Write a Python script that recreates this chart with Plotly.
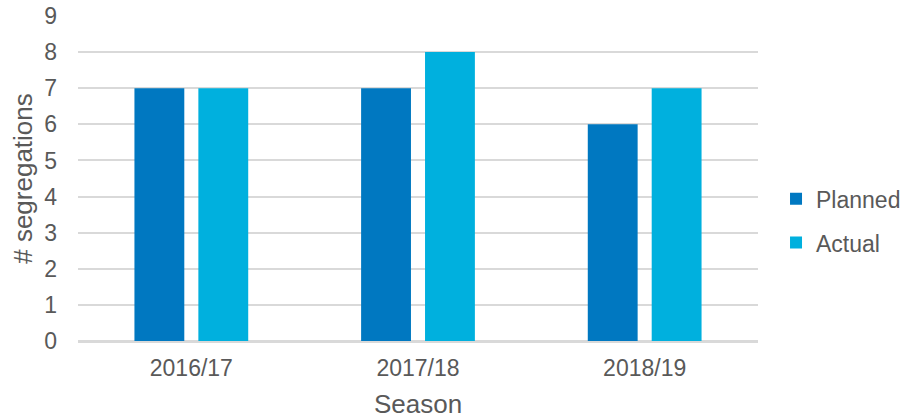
import plotly.graph_objects as go

seasons = ["2016/17", "2017/18", "2018/19"]
planned = [7, 7, 6]
actual = [7, 8, 7]

font = "Liberation Sans, Arial, sans-serif"
grey = "#595959"

fig = go.Figure()
fig.add_trace(go.Bar(x=seasons, y=planned, name="Planned", marker_color="#0078C1",
                     marker_line_width=0, legendgroup="a"))
fig.add_trace(go.Bar(x=seasons, y=actual, name="Actual", marker_color="#00B0DE",
                     marker_line_width=0, legendgroup="b"))

fig.update_layout(
    width=908, height=419,
    margin=dict(l=78, r=150, t=16, b=78, autoexpand=False),
    paper_bgcolor="white", plot_bgcolor="white",
    barmode="group", bargap=0.436, bargroupgap=0.22,
    font=dict(family=font, color=grey, size=23),
    legend=dict(x=1.0265, y=0.37, xanchor="left", yanchor="middle",
                font=dict(size=23, color=grey), tracegroupgap=11,
                itemwidth=30),
    showlegend=True,
)
fig.update_xaxes(title=dict(text="Season", font=dict(size=26, color=grey), standoff=17),
                 tickfont=dict(size=23, color=grey), showgrid=False, automargin=False,
                 ticklabelstandoff=6,
                 showline=True, linecolor="#d9d9d9", linewidth=1.5, ticks="")
fig.update_yaxes(title=dict(text="# segregations", font=dict(size=26, color=grey), standoff=4),
                 range=[0, 9], tickmode="linear", tick0=0, dtick=1,
                 tickfont=dict(size=23, color=grey), automargin=False,
                 ticklabelstandoff=20, ticklabeloverflow="allow",
                 showgrid=True, gridcolor="#d9d9d9", gridwidth=1.5,
                 zeroline=True, zerolinecolor="#d9d9d9", zerolinewidth=1.5, ticks="")

fig.write_html("out.html", config={"displayModeBar": False},
               post_script="document.body.style.margin='0';")
